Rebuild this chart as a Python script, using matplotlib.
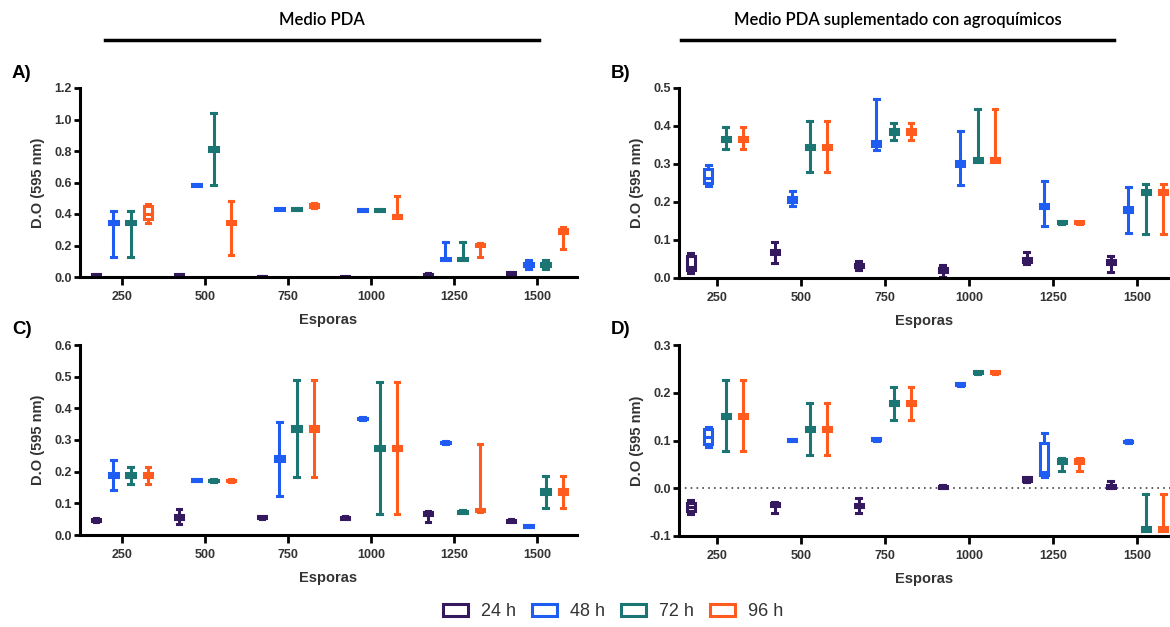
import matplotlib
matplotlib.use('Agg')
import matplotlib.pyplot as plt
from matplotlib.patches import Patch
from matplotlib.lines import Line2D
from matplotlib.ticker import FormatStrFormatter

plt.rcParams['font.family'] = ['Liberation Sans', 'DejaVu Sans']

esporas = ['250', '500', '750', '1000', '1250', '1500']
tiempos = ['24 h', '48 h', '72 h', '96 h']
colores = ['#34195e', '#1f5cf2', '#1b7573', '#ff5b1f']

# each entry: (min, q1, mediana, q3, max) per spore count
# A) Medio PDA - 1
A_24 = [(0.002, 0.004, 0.010, 0.016, 0.018), (0.003, 0.005, 0.012, 0.020, 0.022),
        (0.001, 0.002, 0.004, 0.008, 0.009), (0.000, 0.001, 0.002, 0.005, 0.006),
        (0.008, 0.010, 0.015, 0.022, 0.024), (0.008, 0.010, 0.022, 0.032, 0.034)]
A_48 = [(0.130, 0.335, 0.345, 0.357, 0.420), (0.575, 0.578, 0.583, 0.588, 0.590),
        (0.425, 0.428, 0.433, 0.438, 0.440), (0.418, 0.421, 0.426, 0.431, 0.433),
        (0.105, 0.105, 0.113, 0.120, 0.225), (0.050, 0.070, 0.078, 0.086, 0.105)]
A_72 = [(0.130, 0.335, 0.345, 0.357, 0.420), (0.585, 0.800, 0.810, 0.825, 1.040),
        (0.425, 0.428, 0.433, 0.438, 0.440), (0.418, 0.421, 0.426, 0.431, 0.433),
        (0.105, 0.105, 0.113, 0.120, 0.225), (0.050, 0.070, 0.078, 0.086, 0.105)]
A_96 = [(0.340, 0.370, 0.400, 0.450, 0.465), (0.138, 0.335, 0.346, 0.358, 0.484),
        (0.440, 0.446, 0.456, 0.465, 0.470), (0.375, 0.377, 0.385, 0.392, 0.514),
        (0.127, 0.195, 0.205, 0.212, 0.216), (0.180, 0.280, 0.292, 0.305, 0.320)]

# B) Medio PDA con agroquimicos - 1
B_24 = [(0.013, 0.020, 0.030, 0.058, 0.065), (0.039, 0.062, 0.068, 0.074, 0.096),
        (0.020, 0.028, 0.033, 0.038, 0.046), (0.003, 0.015, 0.020, 0.025, 0.033),
        (0.038, 0.043, 0.048, 0.053, 0.068), (0.017, 0.036, 0.042, 0.047, 0.059)]
B_48 = [(0.241, 0.250, 0.262, 0.288, 0.297), (0.189, 0.200, 0.206, 0.212, 0.228),
        (0.337, 0.347, 0.352, 0.360, 0.472), (0.246, 0.296, 0.302, 0.308, 0.386),
        (0.138, 0.183, 0.190, 0.196, 0.256), (0.118, 0.173, 0.180, 0.186, 0.239)]
B_72 = [(0.340, 0.361, 0.367, 0.372, 0.397), (0.278, 0.339, 0.345, 0.351, 0.412),
        (0.364, 0.380, 0.386, 0.391, 0.408), (0.304, 0.306, 0.311, 0.316, 0.445),
        (0.143, 0.144, 0.147, 0.150, 0.151), (0.117, 0.221, 0.226, 0.231, 0.248)]
B_96 = [(0.340, 0.361, 0.367, 0.372, 0.397), (0.278, 0.339, 0.345, 0.351, 0.412),
        (0.362, 0.380, 0.386, 0.391, 0.408), (0.304, 0.306, 0.311, 0.316, 0.445),
        (0.143, 0.144, 0.147, 0.150, 0.151), (0.117, 0.221, 0.226, 0.231, 0.248)]

# C) Medio PDA - 2
C_24 = [(0.042, 0.043, 0.047, 0.051, 0.053), (0.035, 0.050, 0.056, 0.063, 0.082),
        (0.052, 0.053, 0.056, 0.059, 0.060), (0.051, 0.052, 0.055, 0.058, 0.059),
        (0.042, 0.063, 0.069, 0.074, 0.076), (0.041, 0.042, 0.045, 0.048, 0.049)]
C_48 = [(0.142, 0.182, 0.189, 0.196, 0.237), (0.170, 0.171, 0.174, 0.177, 0.178),
        (0.124, 0.235, 0.242, 0.249, 0.358), (0.364, 0.365, 0.368, 0.371, 0.372),
        (0.288, 0.289, 0.292, 0.295, 0.296), (0.024, 0.025, 0.028, 0.031, 0.032)]
C_72 = [(0.161, 0.183, 0.189, 0.195, 0.216), (0.168, 0.169, 0.172, 0.175, 0.176),
        (0.182, 0.330, 0.337, 0.344, 0.489), (0.065, 0.267, 0.274, 0.281, 0.482),
        (0.070, 0.071, 0.074, 0.077, 0.078), (0.084, 0.130, 0.137, 0.144, 0.187)]
C_96 = [(0.161, 0.183, 0.189, 0.195, 0.216), (0.168, 0.169, 0.172, 0.175, 0.176),
        (0.182, 0.330, 0.337, 0.344, 0.489), (0.065, 0.267, 0.274, 0.281, 0.482),
        (0.074, 0.075, 0.079, 0.083, 0.287), (0.084, 0.130, 0.137, 0.144, 0.187)]

# D) Medio PDA con agroquimicos - 2
D_24 = [(-0.054, -0.048, -0.040, -0.030, -0.025), (-0.051, -0.038, -0.034, -0.030, -0.028),
        (-0.051, -0.040, -0.036, -0.032, -0.021), (0.000, 0.001, 0.003, 0.005, 0.006),
        (0.013, 0.015, 0.019, 0.023, 0.024), (0.000, 0.001, 0.004, 0.007, 0.015)]
D_48 = [(0.086, 0.092, 0.108, 0.124, 0.129), (0.098, 0.099, 0.101, 0.103, 0.104),
        (0.100, 0.101, 0.103, 0.105, 0.106), (0.215, 0.216, 0.218, 0.220, 0.221),
        (0.023, 0.028, 0.035, 0.094, 0.115), (0.095, 0.096, 0.098, 0.100, 0.101)]
D_72 = [(0.077, 0.147, 0.151, 0.155, 0.227), (0.070, 0.120, 0.124, 0.128, 0.178),
        (0.143, 0.174, 0.178, 0.182, 0.212), (0.240, 0.241, 0.243, 0.245, 0.246),
        (0.037, 0.052, 0.057, 0.062, 0.063), (-0.090, -0.089, -0.085, -0.082, -0.012)]
D_96 = [(0.077, 0.147, 0.151, 0.155, 0.227), (0.070, 0.120, 0.124, 0.128, 0.178),
        (0.143, 0.174, 0.178, 0.182, 0.212), (0.240, 0.241, 0.243, 0.245, 0.246),
        (0.037, 0.052, 0.057, 0.062, 0.063), (-0.090, -0.089, -0.085, -0.082, -0.012)]

W, H = 1170, 627
offsets = [-0.312, -0.104, 0.104, 0.312]
gris = '#333333'


def px_axes(fig, left, top, right, bottom):
    return fig.add_axes([left / W, 1 - bottom / H, (right - left) / W, (bottom - top) / H])


def to_stats(vals):
    lo, q1, med, q3, hi = vals
    return dict(whislo=lo, q1=q1, med=med, q3=q3, whishi=hi, fliers=[])


def draw_panel(ax, series, xlim, ylim, ystep):
    for j, serie in enumerate(series):
        c = colores[j]
        pos = [i + offsets[j] for i in range(len(serie))]
        ax.bxp([to_stats(v) for v in serie], positions=pos, widths=0.1, capwidths=0.055,
               patch_artist=True, showfliers=False, manage_ticks=False,
               boxprops=dict(facecolor='white', edgecolor=c, linewidth=2.2),
               medianprops=dict(color=c, linewidth=2.2, solid_capstyle='butt'),
               whiskerprops=dict(color=c, linewidth=2.2),
               capprops=dict(color=c, linewidth=2.2))
    ax.set_xlim(*xlim)
    ax.set_ylim(*ylim)
    n = int(round((ylim[1] - ylim[0]) / ystep))
    ax.set_yticks([ylim[0] + k * ystep for k in range(n + 1)])
    ax.yaxis.set_major_formatter(FormatStrFormatter('%.1f'))
    ax.set_xticks(range(len(esporas)))
    ax.set_xticklabels(esporas)
    for s in ['top', 'right']:
        ax.spines[s].set_visible(False)
    for s in ['left', 'bottom']:
        ax.spines[s].set_linewidth(2.2)
    ax.tick_params(axis='x', length=6, width=2, pad=4, labelsize=9, labelcolor=gris)
    ax.tick_params(axis='y', length=4, width=2, pad=2, labelsize=9, labelcolor=gris)
    for lab in ax.get_xticklabels() + ax.get_yticklabels():
        lab.set_fontweight('bold')


fig = plt.figure(figsize=(W / 100, H / 100), dpi=100)

paneles = [
    ('A)', [A_24, A_48, A_72, A_96], (80, 88, 577, 277), (-0.506, 5.482), (0, 1.2), 0.2),
    ('B)', [B_24, B_48, B_72, B_96], (679, 88, 1170, 278), (-0.452, 5.393), (0, 0.5), 0.1),
    ('C)', [C_24, C_48, C_72, C_96], (80, 345, 577, 535), (-0.506, 5.482), (0, 0.6), 0.1),
    ('D)', [D_24, D_48, D_72, D_96], (679, 345, 1170, 536), (-0.452, 5.393), (-0.1, 0.3), 0.1),
]

for letra, series, box, xlim, ylim, ystep in paneles:
    ax = px_axes(fig, *box)
    if letra == 'D)':
        ax.axhline(0, color='#444444', linestyle=(0, (1, 2.5)), linewidth=1.2, zorder=0)
    draw_panel(ax, series, xlim, ylim, ystep)
    left, top, right, bottom = box
    fig.text((left - 68) / W, 1 - (top - 15) / H, letra, fontsize=13.5, fontweight='bold',
             ha='left', va='center', color='black')
    fig.text((left - 42) / W, 1 - (top + bottom) / 2 / H, 'D.O (595 nm)', rotation=90,
             fontsize=10.5, fontweight='bold', ha='center', va='center', color=gris)
    fig.text((left + right) / 2 / W, 1 - (bottom + 43) / H, 'Esporas', fontsize=10.5,
             fontweight='bold', ha='center', va='center', color=gris)

# column headers with rules
fig.text(322 / W, 1 - 20 / H, 'Medio PDA', fontsize=12, family='Lato', fontweight='semibold',
         ha='center', va='center', color='black')
fig.text(898 / W, 1 - 20 / H, 'Medio PDA suplementado con agroquímicos', fontsize=12,
         family='Lato', fontweight='semibold', ha='center', va='center', color='black')
fig.add_artist(Line2D([105 / W, 539 / W], [1 - 40 / H, 1 - 40 / H], color='black', linewidth=2.5))
fig.add_artist(Line2D([681 / W, 1114 / W], [1 - 40 / H, 1 - 40 / H], color='black', linewidth=2.5))

handles = [Patch(facecolor='white', edgecolor=c, linewidth=2.2) for c in colores]
fig.legend(handles, tiempos, loc='center', bbox_to_anchor=(613 / W, 1 - 612 / H), ncol=4,
           frameon=False, fontsize=13, handlelength=1.4, handleheight=0.6,
           handletextpad=0.7, columnspacing=0.9, labelcolor=gris)

fig.savefig('out.png', dpi=100)
